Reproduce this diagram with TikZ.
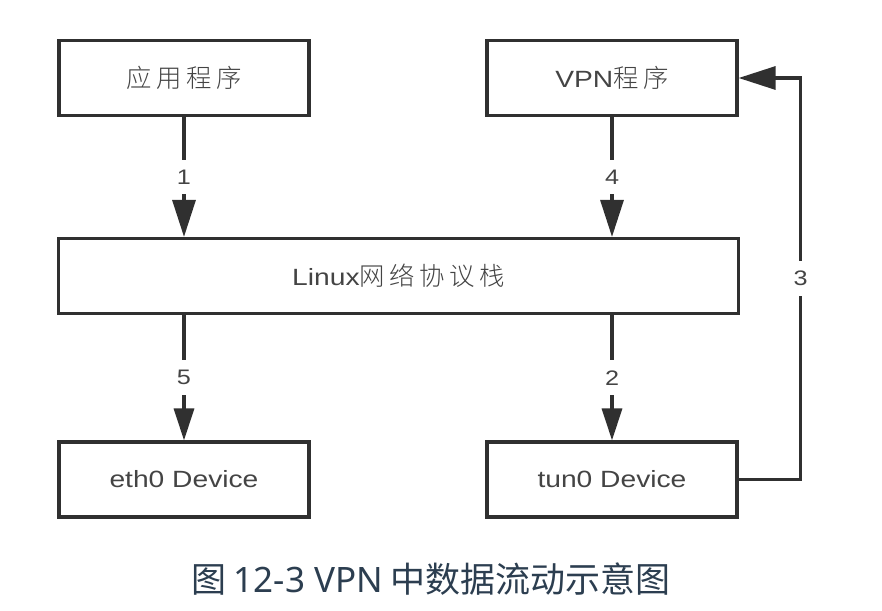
\documentclass[tikz,border=0pt]{standalone}
\usepackage{fontspec}
\setmainfont{Liberation Sans}[FakeStretch=1.2]
\newfontfamily\cjk{Noto Sans CJK SC Light}[LetterSpace=18, Scale=1.08]
\newfontfamily\capfont{Noto Sans CJK SC}
\newfontfamily\caplatin{Noto Sans}
\usetikzlibrary{arrows.meta}
\definecolor{linegray}{HTML}{303030}
\definecolor{textgray}{HTML}{444444}
\definecolor{captionblue}{HTML}{2C3E50}
\tikzset{
  block/.style={draw=linegray, line width=3.2pt, minimum width=250pt,
    minimum height=75pt, inner sep=0pt, text=textgray,
    font=\fontsize{23.5}{28}\selectfont},
  flow/.style={draw=linegray, line width=3.2pt,
    -{Triangle[length=37pt,width=23pt]}},
  flowsmall/.style={flow, -{Triangle[length=32pt,width=20pt]}},
  num/.style={fill=white, text=textgray, inner xsep=3pt, inner ysep=10pt,
    font=\fontsize{21}{24}\selectfont},
}
\begin{document}
\begin{tikzpicture}[x=1pt,y=-1pt]
      \useasboundingbox (0,0) rectangle (882,610);
      \node[block] (app) at (184,78) {\cjk 应用程序\hspace{-4.5pt}};
      \node[block] (vpn) at (612,78) {VPN\cjk 程序\hspace{-4.5pt}};
      \node[block, minimum width=680pt] (stack) at (398.5,276) {Linux\cjk 网络协议栈\hspace{-4.5pt}};
      \node[block] (eth) at (184,479.5) {eth0 Device};
      \node[block] (tun) at (612,479.5) {tun0 Device};
      \begin{scope}[flow]
        \draw (app) -- node[num]{1} (app |- stack.north);
        \draw (vpn) -- node[num]{4} (vpn |- stack.north);
        \draw (tun.east) -- ++(62,0) |- node[num, pos=0.25]{3} (vpn.east);
      \end{scope}
      \begin{scope}[flowsmall]
        \draw (stack.south -| eth) -- node[num]{5} (eth);
        \draw (stack.south -| tun) -- node[num]{2} (tun);
      \end{scope}
      \node[text=captionblue, font=\capfont\fontsize{35}{40}\selectfont] (caption)
        at (431,579) {图 {\caplatin 12-3 VPN} 中数据流动示意图};
    \end{tikzpicture}
\end{document}
